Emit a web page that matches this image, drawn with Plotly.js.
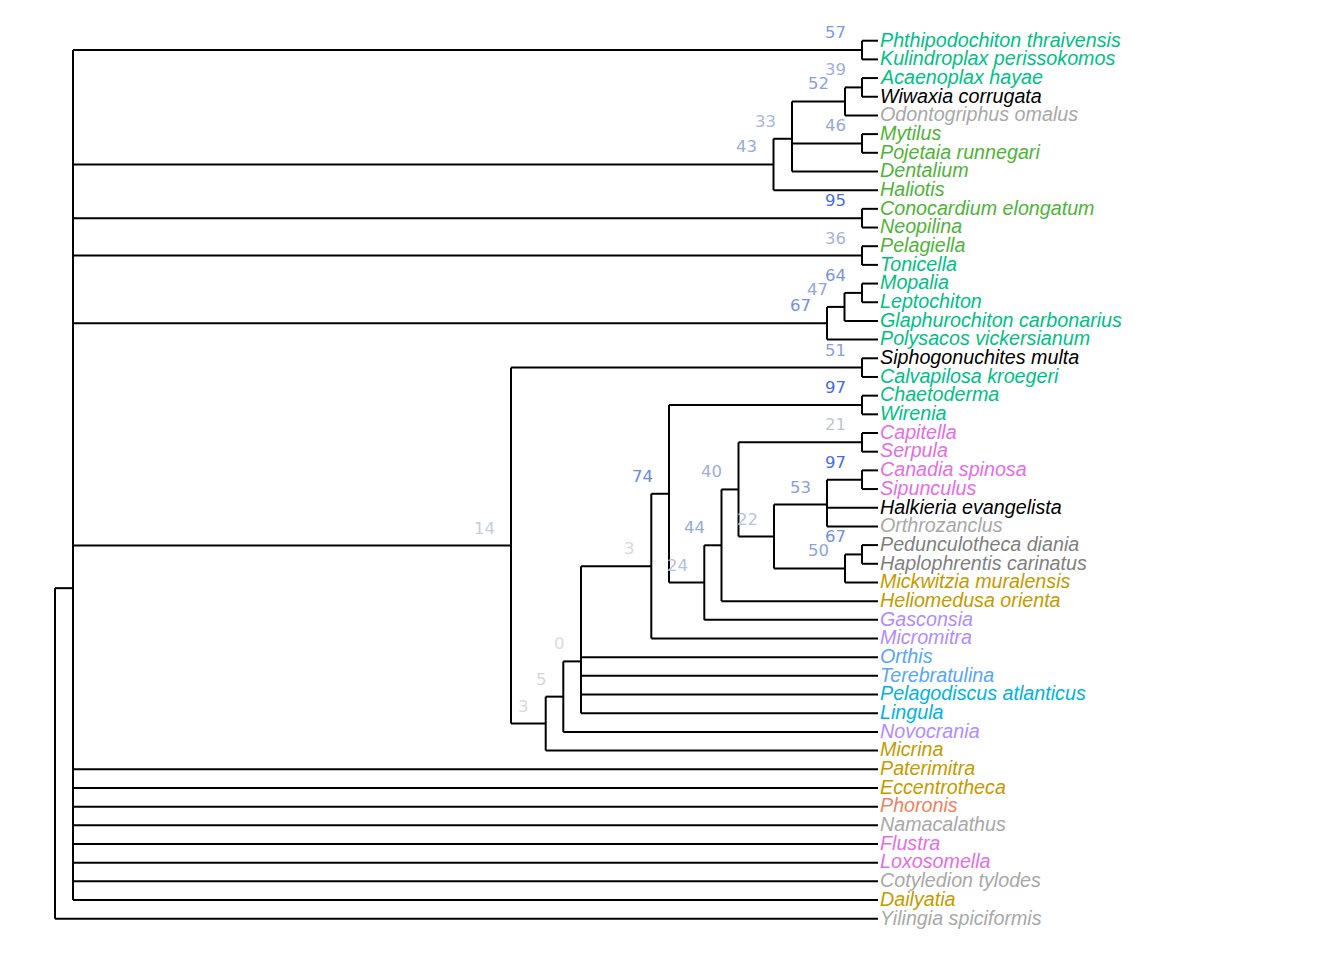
<!DOCTYPE html>
<html>
<head>
<meta charset="utf-8">
<script src="https://cdn.plot.ly/plotly-3.0.1.min.js"></script>
<style>html,body{margin:0;padding:0;background:#fff;}#chart{width:1344px;height:960px;}</style>
</head>
<body>
<div id="chart"></div>
<script>
// ---- Tip order (top to bottom) ----
const tipNames = [
  'Phthipodochiton thraivensis','Kulindroplax perissokomos','Acaenoplax hayae','Wiwaxia corrugata',
  'Odontogriphus omalus','Mytilus','Pojetaia runnegari','Dentalium','Haliotis','Conocardium elongatum',
  'Neopilina','Pelagiella','Tonicella','Mopalia','Leptochiton','Glaphurochiton carbonarius',
  'Polysacos vickersianum','Siphogonuchites multa','Calvapilosa kroegeri','Chaetoderma','Wirenia',
  'Capitella','Serpula','Canadia spinosa','Sipunculus','Halkieria evangelista','Orthrozanclus',
  'Pedunculotheca diania','Haplophrentis carinatus','Mickwitzia muralensis','Heliomedusa orienta',
  'Gasconsia','Micromitra','Orthis','Terebratulina','Pelagodiscus atlanticus','Lingula','Novocrania',
  'Micrina','Paterimitra','Eccentrotheca','Phoronis','Namacalathus','Flustra','Loxosomella',
  'Cotyledion tylodes','Dailyatia','Yilingia spiciformis'
];
const tipParents = [
  'c57','c57','c39','c39','c52','c46','c46','c33','c43','c95',
  'c95','c36','c36','c64','c64','c47','c67','c51','c51','c97a','c97a',
  'c21','c21','c97b','c97b','c53','c53','c67b','c67b','c50','c44',
  'c24','c3u','c0','c0','c0','c0','c5','c3b','A','A','A','A','A','A',
  'A','A','root'
];
const tipGroups = [
  'chiton','chiton','chiton','black','lightgrey','mollusc','mollusc','mollusc','mollusc','mollusc',
  'mollusc','mollusc','chiton','chiton','chiton','chiton','chiton','black','chiton','chiton','chiton',
  'annelid','annelid','annelid','annelid','black','lightgrey','grey','grey','gold','gold',
  'lavender','lavender','blue','blue','cyan','cyan','lavender','gold','gold','gold','salmon',
  'lightgrey','annelid','annelid','lightgrey','gold','lightgrey'
];
const tipDepth = 823;

// ---- Internal nodes ----
const nodeNames   = ['root','A','c57','c43','c33','c52','c39','c46','c95','c36','c67','c47','c64',
                     'c14','c51','c3b','c5','c0','c3u','c74','c97a','c24','c44','c40','c21','c22',
                     'c53','c97b','c50','c67b'];
const nodeParents = [null,'root','A','A','c43','c33','c52','c33','A','A','A','c67','c47',
                     'A','c14','c14','c3b','c5','c0','c3u','c74','c74','c24','c44','c40','c40',
                     'c22','c53','c22','c50'];
const nodeDepths  = [0,18,807,718.5,737,790,807,807,807,807,772,789.5,807,
                     456,807,490.7,508.3,526,596.3,614,807,649.3,666.5,683.5,807,719,
                     772,807,790,807];
const nodeSupport = [null,null,57,43,33,52,39,46,95,36,67,47,64,
                     14,51,3,5,0,3,74,97,24,44,40,21,22,
                     53,97,50,67];

const groupColors = {
  chiton:'#00BF85', mollusc:'#4FB338', black:'#000000', lightgrey:'#A8A8A8', grey:'#7F7F7F',
  gold:'#C49A00', annelid:'#E36EE6', lavender:'#B18CFF', blue:'#5AA5F5', cyan:'#00B4DC', salmon:'#EE8262'
};

// ---- Build tree geometry ----
const nodes = {};
nodeNames.forEach((n,i)=>{ nodes[n] = {name:n, parent:nodeParents[i], x:nodeDepths[i], support:nodeSupport[i], children:[]}; });
tipNames.forEach((n,i)=>{ nodes[n] = {name:n, parent:tipParents[i], x:tipDepth, y:i+1, tip:true, children:[]}; });
const order = nodeNames.concat(tipNames);
order.forEach(n=>{ const p = nodes[n].parent; if(p) nodes[p].children.push(n); });
function getY(n){
  const nd = nodes[n];
  if(nd.y !== undefined) return nd.y;
  const ys = nd.children.map(getY);
  nd.y = ys.reduce((a,b)=>a+b,0)/ys.length;
  nd.ymin = Math.min(...ys); nd.ymax = Math.max(...ys);
  return nd.y;
}
getY('root');

const lx = [], ly = [];
nodeNames.forEach(n=>{
  const nd = nodes[n];
  lx.push(nd.x, nd.x, null); ly.push(nd.ymin, nd.ymax, null);
  nd.children.forEach(c=>{
    const cd = nodes[c];
    lx.push(nd.x, cd.x, null); ly.push(cd.y, cd.y, null);
  });
});

function supportColor(v){
  const t = v/100;
  const lo = [220,220,220], hi = [65,105,225];
  const c = lo.map((l,i)=>Math.round(l + (hi[i]-l)*t));
  return 'rgb('+c.join(',')+')';
}

const annotations = [];
tipNames.forEach((n,i)=>{
  annotations.push({
    x: tipDepth, y: i+1, xref:'x', yref:'y', text: '<i>'+n+'</i>', showarrow:false,
    xanchor:'left', yanchor:'middle', xshift:0, yshift:1.2,
    font:{family:'Liberation Sans, Arial, sans-serif', size:19.7, color:groupColors[tipGroups[i]]}
  });
});
nodeNames.forEach(n=>{
  const nd = nodes[n];
  if(nd.support === null) return;
  annotations.push({
    x: nd.x, y: nd.y, xref:'x', yref:'y', text: String(nd.support), showarrow:false,
    xanchor:'right', yanchor:'bottom', xshift:-14.5, yshift:6,
    font:{family:'DejaVu Sans, sans-serif', size:16.5, color:supportColor(nd.support)}
  });
});

const trace = {
  x: lx, y: ly, type:'scatter', mode:'lines',
  line:{color:'#000000', width:2}, hoverinfo:'skip', showlegend:false
};

const layout = {
  width:1344, height:960,
  margin:{l:0,r:0,t:0,b:0},
  paper_bgcolor:'#ffffff', plot_bgcolor:'#ffffff',
  xaxis:{range:[-55,1289], visible:false, showgrid:false, zeroline:false},
  yaxis:{range:[50.21,-1.179], visible:false, showgrid:false, zeroline:false},
  annotations: annotations,
  showlegend:false
};

Plotly.newPlot('chart', [trace], layout, {displayModeBar:false, staticPlot:true});
</script>
</body>
</html>
